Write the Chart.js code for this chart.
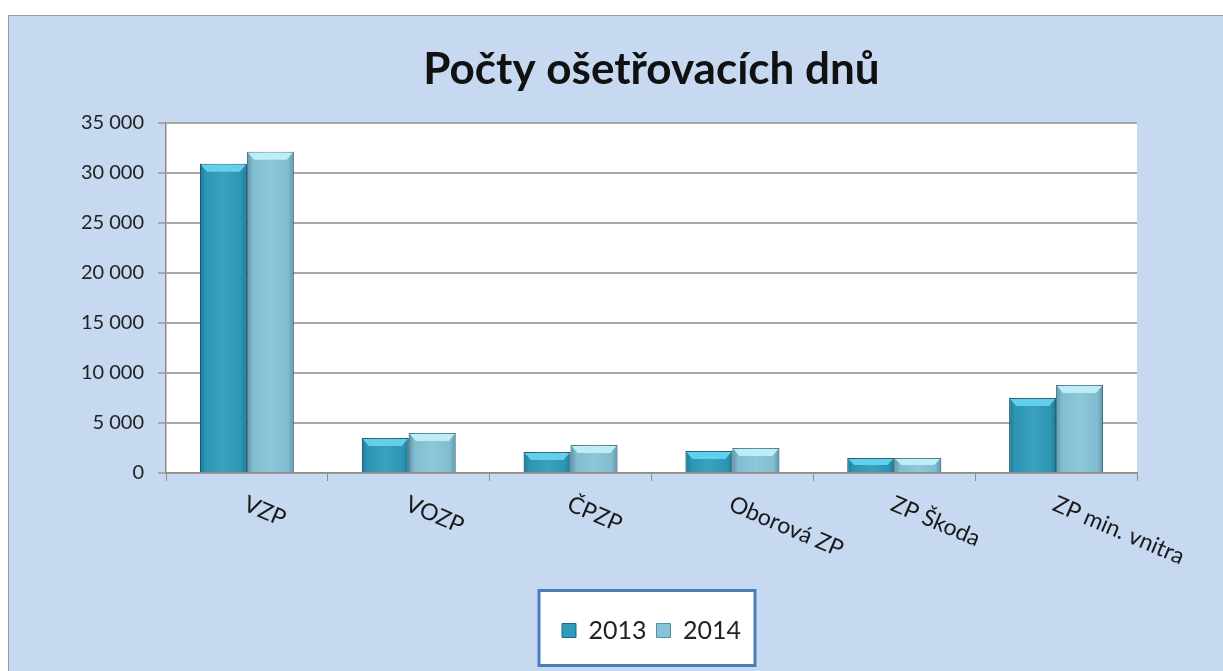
<!DOCTYPE html>
<html>
<head>
<meta charset="utf-8">
<script src="https://cdn.jsdelivr.net/npm/chart.js@4/dist/chart.umd.min.js"></script>
<style>
  body { margin: 0; background: #fff; }
  #wrap { position: absolute; left: 8px; top: 15px; border-left: 1px solid #9a9a9a; border-top: 1px solid #9a9a9a; background: #c6d9f0; }
  canvas { display: block; }
</style>
</head>
<body>
<div id="wrap"><canvas id="myChart" width="1214" height="655"></canvas></div>
<script>
var categories = ["VZP", "VOZP", "ČPZP", "Oborová ZP", "ZP Škoda", "ZP min. vnitra"];
var values2013 = [30900, 3500, 2100, 2200, 1500, 7500];
var values2014 = [32100, 4000, 2800, 2500, 1500, 8800];
var yTicks = [0, 5000, 10000, 15000, 20000, 25000, 30000, 35000];

var FONT = "Lato, 'Open Sans', sans-serif";
var bevel = ['#62d0ea', '#bdeef8'];

function fmt(v) {
  return String(v).replace(/\B(?=(\d{3})+(?!\d))/g, ' ');
}

// white plot area + framed legend box
var backdrop = {
  id: 'backdrop',
  beforeDraw: function(chart) {
    var c = chart.ctx, a = chart.chartArea;
    c.save();
    c.fillStyle = '#ffffff';
    c.fillRect(a.left, a.top, a.right - a.left, a.bottom - a.top);
    var hb = chart.legend.legendHitBoxes;
    if (hb && hb.length) {
      var l = hb[0].left - 23, r = hb[hb.length - 1].left + hb[hb.length - 1].width + 14;
      var mid = hb[0].top + hb[0].height / 2;
      c.fillRect(l, mid - 40, r - l, 75);
      c.strokeStyle = '#4a7ebb';
      c.lineWidth = 3;
      c.strokeRect(l, mid - 40, r - l, 75);
    }
    c.restore();
  }
};

// shading on the bars (edges darker, light bevel on top)
var shade = {
  id: 'shade',
  afterDatasetsDraw: function(chart) {
    var c = chart.ctx;
    chart.data.datasets.forEach(function(ds, di) {
      chart.getDatasetMeta(di).data.forEach(function(bar) {
        var p = bar.getProps(['x', 'y', 'base', 'width'], true);
        var l = p.x - p.width / 2, r = p.x + p.width / 2;
        var g = c.createLinearGradient(l, 0, r, 0);
        g.addColorStop(0, 'rgba(0,40,60,0.30)');
        g.addColorStop(0.12, 'rgba(0,40,60,0.05)');
        g.addColorStop(0.5, 'rgba(255,255,255,0.06)');
        g.addColorStop(0.88, 'rgba(0,40,60,0.05)');
        g.addColorStop(1, 'rgba(0,40,60,0.30)');
        c.save();
        c.fillStyle = g;
        c.fillRect(l, p.y, p.width, p.base - p.y);
        var h = Math.min(8, (p.base - p.y) / 2);
        c.fillStyle = bevel[di];
        c.beginPath();
        c.moveTo(l + 1, p.y + 1);
        c.lineTo(r - 1, p.y + 1);
        c.lineTo(r - 7, p.y + h);
        c.lineTo(l + 7, p.y + h);
        c.closePath();
        c.fill();
        c.restore();
      });
    });
  }
};

// slanted category labels, positioned from the x scale
var slantLabels = {
  id: 'slantLabels',
  afterDraw: function(chart) {
    var c = chart.ctx, xs = chart.scales.x;
    c.save();
    c.font = '23px ' + FONT;
    c.fillStyle = '#1a1a1a';
    c.textAlign = 'left';
    c.textBaseline = 'middle';
    categories.forEach(function(lab, i) {
      var x = xs.getPixelForTick(i);
      c.save();
      c.translate(x - 2, chart.chartArea.bottom + 30);
      c.rotate(23 * Math.PI / 180);
      c.fillText(lab, 0, 0);
      c.restore();
    });
    c.restore();
  }
};

var ctx = document.getElementById('myChart').getContext('2d');
var myChart = new Chart(ctx, {
  type: 'bar',
  data: {
    labels: categories,
    datasets: [{
      label: '2013',
      data: values2013,
      backgroundColor: '#2f9bbb',
      borderColor: '#1d6a82',
      borderWidth: 1
    }, {
      label: '2014',
      data: values2014,
      backgroundColor: '#88c4d8',
      borderColor: '#5a8c9e',
      borderWidth: 1
    }]
  },
  options: {
    responsive: false,
    animation: false,
    categoryPercentage: 0.58,
    barPercentage: 1,
    layout: { padding: { left: 0, right: 86, top: 0, bottom: 18 } },
    plugins: {
      title: {
        display: true,
        fullSize: false,
        text: 'Počty ošetřovacích dnů',
        color: '#111',
        font: { family: FONT, size: 44, weight: 'bold', lineHeight: 1.2 },
        padding: { top: 27, bottom: 27 }
      },
      legend: {
        position: 'bottom',
        fullSize: false,
        labels: {
          color: '#222',
          font: { family: FONT, size: 25 },
          boxWidth: 14,
          boxHeight: 14,
          padding: 10
        }
      },
      tooltip: { enabled: false }
    },
    scales: {
      x: {
        grid: { offset: true, drawOnChartArea: false, tickLength: 8, color: '#8c8c8c' },
        border: { color: '#8c8c8c', width: 1.5 },
        ticks: { display: false },
        afterFit: function(s) { s.height = 135; }
      },
      y: {
        min: 0,
        max: 35000,
        afterFit: function(s) { s.width = 157; },
        afterBuildTicks: function(s) { s.ticks = yTicks.map(function(v) { return { value: v }; }); },
        grid: { color: '#a8a8a8', lineWidth: 2, tickLength: 8 },
        border: { color: '#8c8c8c', width: 1.5 },
        ticks: {
          color: '#222',
          padding: 14,
          font: { family: FONT, size: 20 },
          callback: function(v) { return fmt(v); }
        }
      }
    }
  },
  plugins: [backdrop, shade, slantLabels]
});
</script>
</body>
</html>
